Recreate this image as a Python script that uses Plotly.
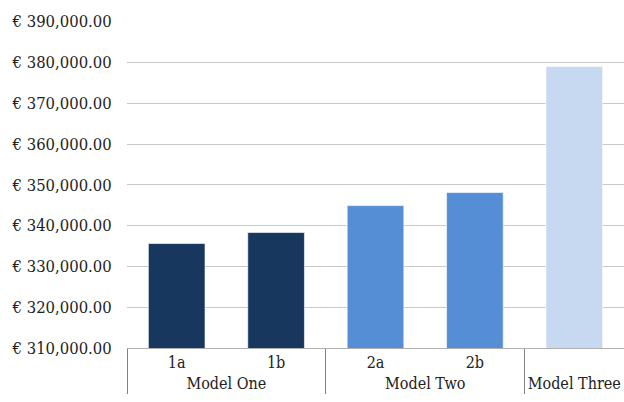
import plotly.graph_objects as go

# Scenario cost per model variant
models = ["Model One", "Model One", "Model Two", "Model Two", "Model Three"]
variants = ["1a", "1b", "2a", "2b", ""]
costs = [335600, 338300, 344900, 348100, 379000]
bar_colors = ["#17375E", "#17375E", "#558ED5", "#558ED5", "#C6D9F1"]

y_ticks = [310000, 320000, 330000, 340000, 350000, 360000, 370000, 380000, 390000]
y_labels = ["€ {:,.2f}".format(v) for v in y_ticks]

fig = go.Figure(
    go.Bar(
        x=[models, variants],
        y=costs,
        marker=dict(color=bar_colors, line=dict(color="rgba(255,255,255,0.6)", width=1)),
        width=0.57,
    )
)

serif = "DejaVu Serif Condensed, DejaVu Serif"

fig.update_layout(
    width=624,
    height=402,
    margin=dict(l=127, r=0, t=21, b=54),
    paper_bgcolor="white",
    plot_bgcolor="white",
    showlegend=False,
    font=dict(family=serif, size=16, color="#222222"),
)

fig.update_yaxes(
    range=[310000, 390150],
    tickvals=y_ticks,
    ticktext=y_labels,
    showgrid=True,
    gridcolor="#C8C8C8",
    gridwidth=1.3,
    zeroline=False,
    ticks="outside",
    ticklen=11,
    tickcolor="rgba(0,0,0,0)",
    tickfont=dict(family=serif, size=16.5, color="#222222"),
    automargin=False,
)

fig.update_xaxes(
    type="multicategory",
    showline=True,
    linecolor="#B0B0B0",
    linewidth=1,
    showdividers=True,
    dividercolor="#808080",
    dividerwidth=1,
    tickfont=dict(family=serif, size=16, color="#222222"),
    ticks="outside",
    ticklen=10,
    tickcolor="rgba(0,0,0,0)",
    automargin=False,
)

fig.write_html("out.html")
